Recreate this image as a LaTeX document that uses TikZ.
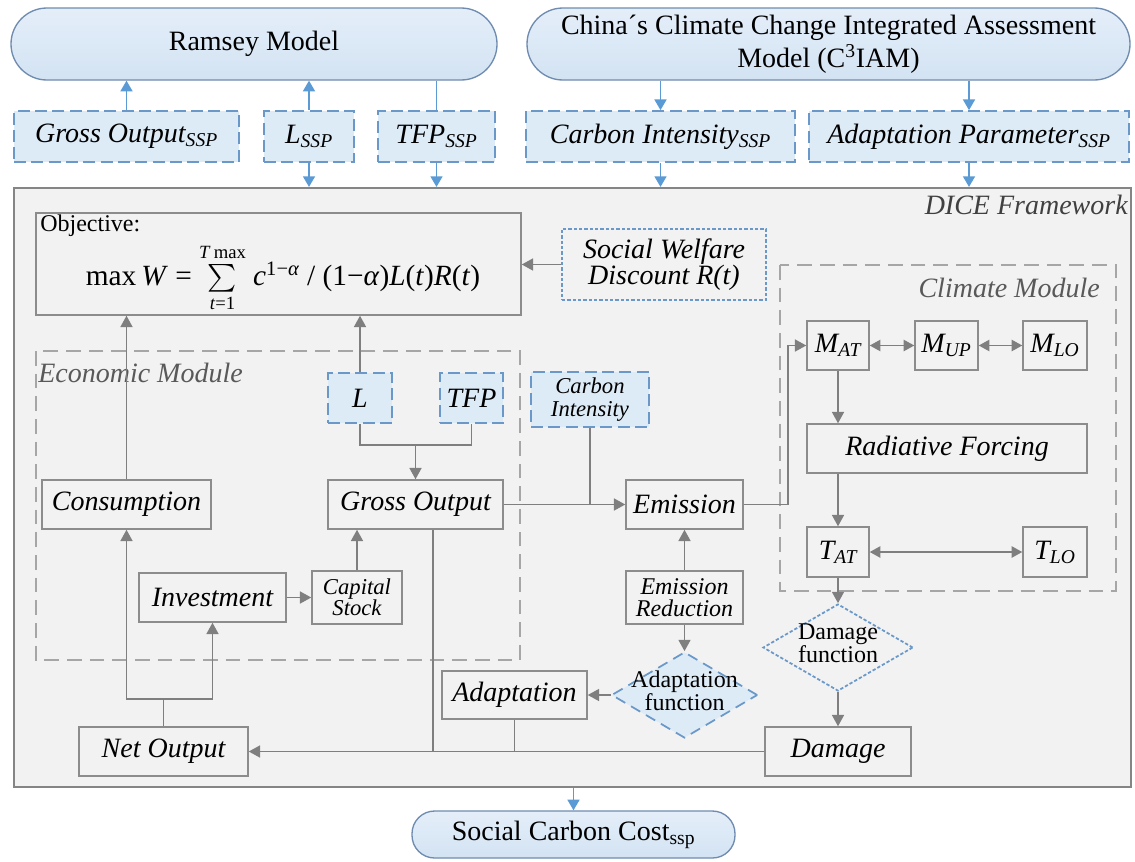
\documentclass[tikz,border=0pt]{standalone}
\usepackage{exscale}
\usepackage{fontspec}
\setmainfont{Liberation Serif}
\usetikzlibrary{arrows.meta,shapes.geometric}
\definecolor{bgc}{HTML}{F2F2F2}
\definecolor{framec}{HTML}{858585}
\definecolor{boxc}{HTML}{8C8C8C}
\definecolor{arrc}{HTML}{7F7F7F}
\definecolor{modc}{HTML}{A6A6A6}
\definecolor{bluec}{HTML}{6A98C9}
\definecolor{bluef}{HTML}{DDEBF7}
\definecolor{bluea}{HTML}{5B9BD5}
\definecolor{pillc}{HTML}{6F8CB0}
\definecolor{pillt}{HTML}{E4EEF9}
\definecolor{pillb}{HTML}{D3E3F3}
\definecolor{labc}{HTML}{595959}
\definecolor{labd}{HTML}{404040}
\newcommand\fsz[2]{\fontsize{#1}{#2}\selectfont}
\newcommand\ztext[1]{\smash{\makebox[0pt]{\raisebox{-0.2em}{\begin{tabular}{@{}c@{}}#1\end{tabular}}}}}
\begin{document}
\begin{tikzpicture}[x=0.75pt,y=-0.75pt,
 sz/.style 2 args={minimum width=#1*0.75pt, minimum height=#2*0.75pt},
 pill/.style={draw=pillc, top color=pillt, bottom color=pillb, line width=1pt, inner sep=0pt, align=center, font=\fsz{21}{25}},
 bdash/.style={draw=bluec, fill=bluef, dash pattern=on 9pt off 4pt, line width=1.3pt, inner sep=0pt, align=center, font=\fsz{21}{24}\itshape},
 gbox/.style={draw=boxc, fill=bgc, line width=1.1pt, inner sep=0pt, align=center, font=\fsz{21}{24}\itshape},
 module/.style={draw=modc, dash pattern=on 11pt off 6pt, line width=1.5pt},
 gline/.style={draw=arrc, line width=1.2pt},
 garrow/.style={gline, -{Triangle[length=8.5pt,width=9pt]}},
 gdbl/.style={gline, {Triangle[length=8pt,width=8.5pt]}-{Triangle[length=8pt,width=8.5pt]}},
 barrow/.style={draw=bluea, line width=1.2pt, -{Triangle[length=8pt,width=9pt]}},
 bline/.style={draw=bluea, line width=1.2pt},
 lab/.style={inner sep=0pt, font=\fsz{21}{24}\itshape}
]
\fill[white] (0,0) rectangle (1135,861);
\useasboundingbox (0,0) rectangle (1135,861);

% top sources
\node[pill, sz={486}{72}, rounded corners=27pt] (ramsey) at (254,44) {Ramsey Model};
\node[pill, sz={603}{72}, rounded corners=27pt] (china) at (828.5,44) {China´s Climate Change Integrated Assessment\\Model (C\textsuperscript{3}IAM)};

\node[bdash, sz={225}{51}] (gossp) at (126.5,136.5) {Gross Output\textsubscript{SSP}};
\node[bdash, sz={90}{51}] (lssp) at (309,136.5) {L\textsubscript{SSP}};
\node[bdash, sz={117}{51}] (tfpssp) at (436.5,136.5) {TFP\textsubscript{SSP}};
\node[bdash, sz={269}{51}] (cissp) at (660.5,136.5) {Carbon Intensity\textsubscript{SSP}};
\node[bdash, sz={320}{51}] (apssp) at (969,136.5) {Adaptation Parameter\textsubscript{SSP}};

% frame
\node[draw=framec, fill=bgc, line width=1.6pt, inner sep=0pt, sz={1117}{599}] (frame) at (572.5,487.5) {};
\node[lab, anchor=east, text=labd] (dice) at (1128,205) {DICE Framework};

% objective
\node[gbox, sz={485}{102}] (obj) at (278.5,264) {};
\node[anchor=west, inner sep=0pt, font=\fsz{18}{20}] (objlab) at (40,226) {Objective:};
\node[inner sep=0pt, font=\fsz{22}{24}] (formula) at (283,278) {max\,\textit{W} = $\sum\limits_{\mbox{\fsz{14}{14}\textit{t}=1}}^{\mbox{\fsz{14}{14}\textit{T}\,max}}$ \textit{c}\textsuperscript{1−\textit{α}} / (1−\textit{α})\textit{L}(\textit{t})\textit{R}(\textit{t})};

\node[gbox, draw=bluec, dash pattern=on 2.5pt off 1.5pt, line width=1.3pt, sz={204}{71}, font=\fsz{21}{18}\itshape] (swd) at (664,264.5) {Social Welfare\\Discount R(t)};

% modules
\draw[module] (36,351) rectangle (520,660);
\node[lab, anchor=west, text=labc] (econlab) at (38,373) {Economic Module};
\draw[module] (780,265) rectangle (1116,591);
\node[lab, anchor=east, text=labc] (climlab) at (1100,288) {Climate Module};

% economic boxes
\node[bdash, sz={64}{50}] (L) at (360,398) {L};
\node[bdash, sz={63}{50}] (TFP) at (471.5,398) {TFP};
\node[bdash, sz={118}{55}, font=\fsz{17}{17}\itshape] (ci) at (590,399.5) {Carbon\\Intensity};
\node[gbox, sz={169}{49}] (cons) at (126.5,504.5) {Consumption};
\node[gbox, sz={175}{49}] (gross) at (415.5,504.5) {Gross Output};
\node[gbox, sz={117}{49}] (emis) at (684.5,504.5) {Emission};
\node[gbox, sz={147}{49}] (inv) at (212.5,597.5) {Investment};
\node[gbox, sz={90}{53}, font=\fsz{17}{15.5}\itshape] (cap) at (357,597.5) {Capital\\Stock};
\node[gbox, sz={117}{53}, font=\fsz{18}{16.5}\itshape] (emred) at (684.5,597.5) {Emission\\Reduction};
\node[diamond, draw=bluec, fill=bluef, dash pattern=on 8pt off 5pt, line width=1.3pt, inner sep=0pt, sz={146}{86}, font=\fsz{18}{16}] (adfun) at (684.5,695) {\ztext{Adaptation\\function}};
\node[gbox, sz={145}{48}] (adapt) at (514.5,695) {Adaptation};
\node[gbox, sz={169}{49}] (net) at (163.5,751.5) {Net Output};
\node[gbox, sz={146}{49}] (dmg) at (838,751.5) {Damage};

% climate boxes
\node[gbox, sz={62}{49}] (mat) at (838,345.5) {M\textsubscript{AT}};
\node[gbox, sz={63}{49}] (mup) at (946.5,345.5) {M\textsubscript{UP}};
\node[gbox, sz={64}{49}] (mlo) at (1055,345.5) {M\textsubscript{LO}};
\node[gbox, sz={280}{49}] (rf) at (947,448.5) {Radiative Forcing};
\node[gbox, sz={62}{50}] (tat) at (838,552) {T\textsubscript{AT}};
\node[gbox, sz={64}{50}] (tlo) at (1055,552) {T\textsubscript{LO}};
\node[diamond, draw=bluec, fill=bgc, dash pattern=on 2.5pt off 1.5pt, line width=1.3pt, inner sep=0pt, sz={150}{87}, font=\fsz{18}{16}] (dmgfun) at (838,647.5) {\ztext{Damage\\function}};

\node[pill, sz={323}{47}, rounded corners=17pt] (scc) at (573.5,834.5) {Social Carbon Cost\textsubscript{ssp}};

% blue connectors
\draw[barrow] (gossp.north) -- (gossp.north |- ramsey.south);
\draw[barrow] (lssp.north) -- (lssp.north |- ramsey.south);
\draw[bline] (tfpssp.north |- ramsey.south) -- (tfpssp.north);
\draw[barrow] (cissp.north |- china.south) -- (cissp.north);
\draw[barrow] (apssp.north |- china.south) -- (apssp.north);
\draw[barrow] (lssp.south) -- (lssp.south |- frame.north);
\draw[barrow] (tfpssp.south) -- (tfpssp.south |- frame.north);
\draw[barrow] (cissp.south) -- (cissp.south |- frame.north);
\draw[barrow] (apssp.south) -- (apssp.south |- frame.north);
\draw[barrow] (scc.north |- frame.south) -- (scc.north);

% gray connectors
\draw[garrow] (cons.north) -- (cons.north |- obj.south);
\draw[garrow] (L.north) -- (L.north |- obj.south);
\draw[garrow] (swd.west) -- (swd.west -| obj.east);
\draw[gline] (L.south) -- ++(0,21) coordinate (lj) -| (TFP.south);
\draw[garrow] (lj -| gross.north) -- (gross.north);
\draw[garrow] (cap.north) -- (cap.north |- gross.south);
\draw[garrow] (inv.east) -- (cap.west);
\draw[garrow] (gross.east) -- (emis.west);
\draw[gline] (ci.south) -- (ci.south |- gross.east);
\draw[garrow] (emis.east) -- ++(44,0) |- (mat.west);
\draw[gdbl] (mat.east) -- (mup.west);
\draw[gdbl] (mup.east) -- (mlo.west);
\draw[garrow] (mat.south) -- (mat.south |- rf.north);
\draw[garrow] (tat.north |- rf.south) -- (tat.north);
\draw[gdbl] (tat.east) -- (tlo.west);
\draw[garrow] (tat.south) -- (dmgfun.north);
\draw[garrow] (dmgfun.south) -- (dmg.north);
\draw[garrow] (emred.north) -- (emis.south);
\draw[garrow] (emred.south) -- (adfun.north);
\draw[garrow] (adfun.west) -- (adapt.east);
\draw[garrow] (dmg.west) -- (net.east);
\draw[gline] ([xshift=13.1pt]gross.south) -- ([xshift=13.1pt]gross.south |- net.east);
\draw[gline] (adapt.south) -- (adapt.south |- net.east);
\draw[gline] (net.north) -- ++(0,-27) coordinate (nj);
\draw[garrow] (nj) -| (cons.south);
\draw[garrow] (nj) -| (inv.south);
\end{tikzpicture}
\end{document}
